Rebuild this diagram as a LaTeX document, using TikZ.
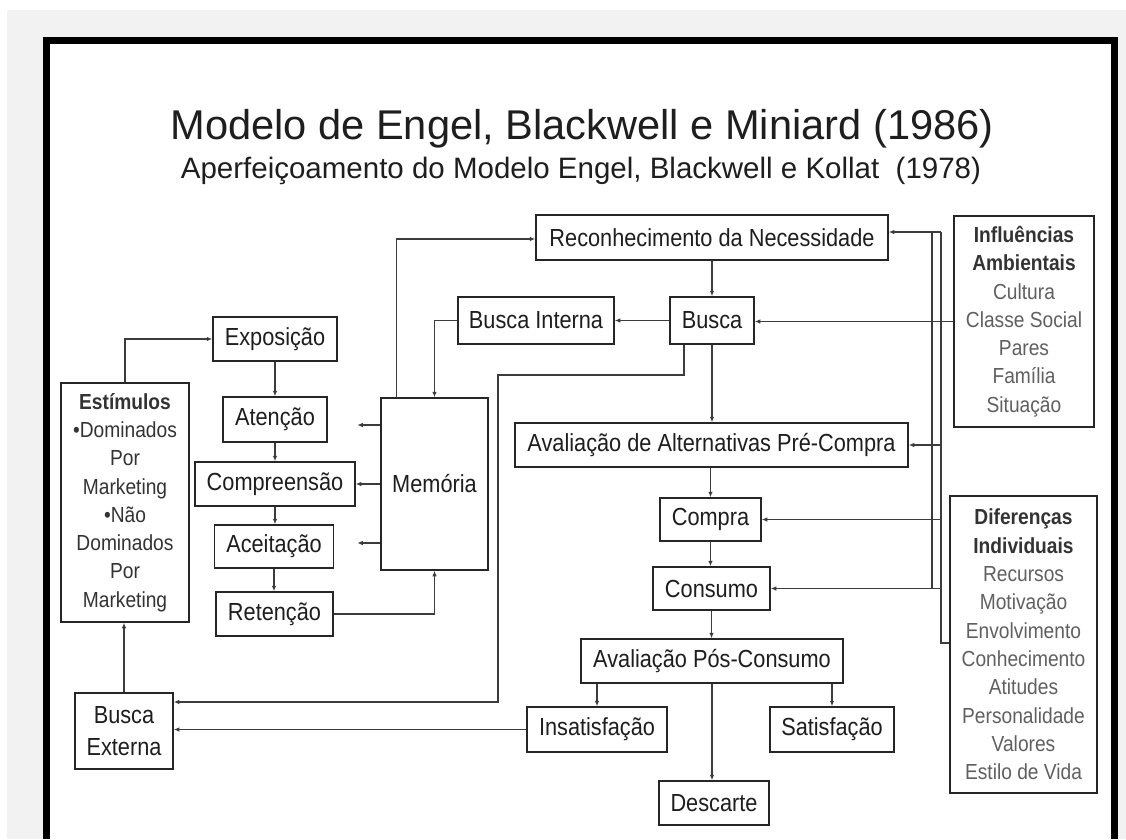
\documentclass[tikz,border=0pt]{standalone}
\usepackage{fontspec}
\setmainfont{Liberation Sans}
\newfontfamily\boxfont{Liberation Sans}[FakeStretch=0.88]
\usetikzlibrary{arrows.meta}
\definecolor{bggray}{HTML}{F2F2F2}
\definecolor{boxline}{HTML}{262626}
\definecolor{linecol}{HTML}{3C3C3C}
\definecolor{txt}{HTML}{1E1E1E}
\definecolor{softtxt}{HTML}{606060}
\definecolor{headtxt}{HTML}{333333}
\newcommand\sidehead[1]{\textcolor{headtxt}{\textbf{#1}}}
\tikzset{
  box/.style={draw=boxline, line width=1.5pt, fill=white, inner sep=0pt,
    text=txt, align=center, font=\boxfont\fontsize{24.7}{32}\selectfont},
  sidebox/.style={box, font=\boxfont\fontsize{21.8}{28.3}\selectfont},
  conn/.style={draw=linecol, line width=1.2pt},
  arr/.style={conn, -{Latex[length=5.5pt,width=4.5pt]}},
}
\begin{document}
\begin{tikzpicture}[x=1pt,y=-1pt]
\useasboundingbox (0,0) rectangle (1126,839);
% page background and slide frame
\fill[white] (0,0) rectangle (1126,839);
\fill[bggray] (7,10) rectangle (1126,839);
\fill[white] (43,37) rectangle (1118,839);
\fill[black] (43,37) rectangle (1118,43.5);
\fill[black] (43,37) rectangle (50,839);
\fill[black] (1111,37) rectangle (1118,839);

% titles
\node[anchor=base, text=txt, font=\fontsize{41.6}{48}\selectfont] (title) at (582,139)
  {Modelo de Engel, Blackwell e Miniard (1986)};
\node[anchor=base, text=txt, font=\fontsize{29.5}{34}\selectfont] (subtitle) at (581,178)
  {Aperfeiçoamento do Modelo Engel, Blackwell e Kollat\ \ (1978)};

% decision process column
\node[box, minimum width=352pt, minimum height=45pt] (rec) at (712,237.5) {Reconhecimento da Necessidade};
\node[box, minimum width=84pt, minimum height=47pt] (busca) at (712,320.5) {Busca};
\node[box, minimum width=156pt, minimum height=47pt] (bint) at (536,320.5) {Busca Interna};
\node[box, minimum width=393pt, minimum height=44pt] (aval) at (711.5,445) {Avaliação de Alternativas Pré-Compra};
\node[box, minimum width=101pt, minimum height=43pt] (compra) at (710.5,519.5) {Compra};
\node[box, minimum width=117pt, minimum height=43pt] (consumo) at (711.5,588.5) {Consumo};
\node[box, minimum width=262pt, minimum height=44pt] (pos) at (712,661) {Avaliação Pós-Consumo};
\node[box, minimum width=140pt, minimum height=45pt] (insat) at (597,729.5) {Insatisfação};
\node[box, minimum width=124pt, minimum height=45pt] (sat) at (832,729.5) {Satisfação};
\node[box, minimum width=110pt, minimum height=44pt] (desc) at (714,803) {Descarte};

% information processing column
\node[box, minimum width=124pt, minimum height=44pt] (expo) at (275,339) {Exposição};
\node[box, minimum width=104pt, minimum height=45pt] (aten) at (275,419.5) {Atenção};
\node[box, minimum width=160pt, minimum height=44pt] (comp) at (275,484) {Compreensão};
\node[box, minimum width=119pt, minimum height=43pt] (acei) at (274,546.5) {Aceitação};
\node[box, minimum width=117pt, minimum height=44pt] (ret) at (274.5,614) {Retenção};
\node[box, minimum width=107pt, minimum height=172pt] (mem) at (434.5,484) {Memória};

% inputs
\node[sidebox, minimum width=128pt, minimum height=239pt, text=headtxt] (estim) at (125,502.5)
  {\textbf{Estímulos}\\•Dominados\\Por\\Marketing\\•Não\\Dominados\\Por\\Marketing};
\node[box, minimum width=98pt, minimum height=76pt] (bext) at (124,731) {Busca\\Externa};

% influencing variables
\node[sidebox, minimum width=140pt, minimum height=211pt, text=softtxt] (infl) at (1024,321.5)
  {\sidehead{Influências}\\\sidehead{Ambientais}\\Cultura\\Classe Social\\Pares\\Família\\Situação};
\node[sidebox, minimum width=147pt, minimum height=297pt, text=softtxt] (dif) at (1023.5,644.5)
  {\sidehead{Diferenças}\\\sidehead{Individuais}\\Recursos\\Motivação\\Envolvimento\\Conhecimento\\Atitudes\\Personalidade\\Valores\\Estilo de Vida};

% main flow
\draw[arr] (rec.south) -- (rec.south |- busca.north);
\draw[arr] (busca.south) -- (busca.south |- aval.north);
\draw[arr] (aval.south -| compra.north) -- (compra.north);
\draw[arr] (compra.south) -- (compra.south |- consumo.north);
\draw[arr] (consumo.south) -- (consumo.south |- pos.north);
\draw[arr] (pos.south -| insat.north) -- (insat.north);
\draw[arr] (pos.south -| sat.north) -- (sat.north);
\draw[arr] (pos.south) -- (pos.south |- desc.north);
\draw[arr] (busca.west) -- (bint.east);
\draw[arr] (bint.west) -| (mem.north);

% search leading to external search
\coordinate (k1) at (498,375);
\coordinate (k2) at (498,702);
\draw[arr] ([xshift=-28pt]busca.south) |- (k1) -- (k2) -- (k2 -| bext.east);
\draw[arr] (insat.west) -- (insat.west -| bext.east);
\draw[arr] (bext.north) -- (bext.north |- estim.south);

% information processing flow
\draw[arr] (estim.north) |- (expo.west);
\draw[arr] (expo.south) -- (expo.south |- aten.north);
\draw[arr] (aten.south) -- (aten.south |- comp.north);
\draw[arr] (comp.south) -- (comp.south |- acei.north);
\draw[arr] (acei.south) -- (acei.south |- ret.north);
\draw[arr] ([yshift=59pt]mem.west) -- ++(-23,0);
\draw[arr] (mem.west) -- (comp.east);
\draw[arr] ([yshift=-59pt]mem.west) -- ++(-23,0);
\draw[arr] (ret.east) -| (mem.south);
\draw[arr] ([xshift=16.5pt]mem.north west) |- ([yshift=-1.5pt]rec.west);

% environmental influences and individual differences
\coordinate (busA) at (941,232);
\coordinate (busAend) at (941,643);
\coordinate (busB) at (932,232);
\coordinate (busBend) at (932,588);
\draw[conn] (busA) -- (busAend) -- (busAend -| dif.west);
\draw[conn] (busB) -- (busBend);
\draw[arr] (busA) -- (busA -| rec.east);
\draw[arr] (busA |- aval.east) -- (aval.east);
\draw[arr] (busA |- compra.east) -- (compra.east);
\draw[arr] (busA |- consumo.east) -- (consumo.east);
\draw[arr] (infl.west) -- (infl.west -| busca.east);
\end{tikzpicture}
\end{document}
